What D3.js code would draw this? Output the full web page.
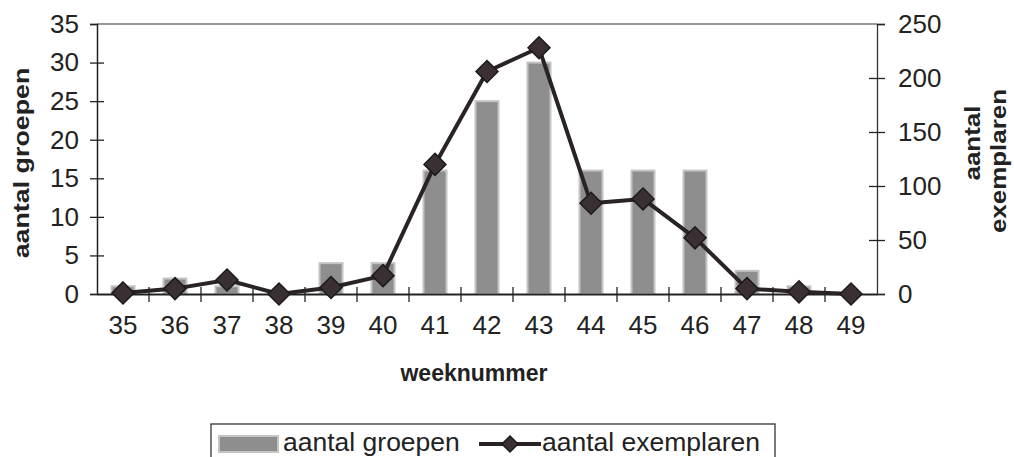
<!DOCTYPE html>
<html>
<head>
<meta charset="utf-8">
<script src="https://cdn.jsdelivr.net/npm/d3@7/dist/d3.min.js"></script>
<style>
  html, body { margin: 0; padding: 0; background: #fff; }
  svg { display: block; }
  text { font-family: "Liberation Sans", Arial, sans-serif; fill: #222; }
</style>
</head>
<body>
<svg id="chart" width="1014" height="457"></svg>
<script>
const weeks = ["35","36","37","38","39","40","41","42","43","44","45","46","47","48","49"];
const groepen = [1, 2, 1, 0, 4, 4, 16, 25, 30, 16, 16, 16, 3, 1, 0];
const exemplaren = [1, 5, 13, 0, 6, 17, 120, 206, 228, 84, 88, 52, 5, 2, 0];
const leftTicks = [0, 5, 10, 15, 20, 25, 30, 35];
const rightTicks = [0, 50, 100, 150, 200, 250];

const svg = d3.select("#chart");
const L = 97, R = 877, T = 24, B = 294;

const x = d3.scaleBand().domain(weeks).range([L, R]).padding(0);
const yL = d3.scaleLinear().domain([0, 35]).range([B, T]);
const yR = d3.scaleLinear().domain([0, 250]).range([B, T]);

// top border
svg.append("line").attr("x1", L).attr("x2", R).attr("y1", T).attr("y2", T)
  .attr("stroke", "#777").attr("stroke-width", 1.5);

// bars
const bw = 23;
svg.append("g").selectAll("rect").data(weeks).join("rect")
  .attr("x", d => x(d) + x.bandwidth() / 2 - bw / 2)
  .attr("width", bw)
  .attr("y", (d, i) => yL(groepen[i]))
  .attr("height", (d, i) => B - yL(groepen[i]))
  .attr("fill", "#8e8e8e")
  .attr("stroke", "#c4c4c4")
  .attr("stroke-width", 2);

// left axis
const gL = svg.append("g").attr("transform", `translate(${L},0)`)
  .call(d3.axisLeft(yL).tickValues(leftTicks).tickSize(7).tickPadding(11));
gL.select(".domain").attr("stroke", "#222").attr("stroke-width", 1.5);
gL.selectAll(".tick line").attr("stroke", "#222").attr("stroke-width", 1.3)
  .attr("x2", -7).attr("x1", d => d === 35 || d === 0 ? 0 : 7);
gL.selectAll(".tick text").style("font-size", "26px").attr("fill", "#222");

// right axis
const gR = svg.append("g").attr("transform", `translate(${R},0)`)
  .call(d3.axisRight(yR).tickValues(rightTicks).tickSize(8).tickPadding(13));
gR.select(".domain").attr("stroke", "#333").attr("stroke-width", 1.3);
gR.selectAll(".tick line").attr("stroke", "#222").attr("stroke-width", 1.3)
  .attr("x1", d => d === 250 || d === 0 ? 0 : -8);
gR.selectAll(".tick text").style("font-size", "26px").attr("fill", "#222");

// bottom axis
const gB = svg.append("g").attr("transform", `translate(0,${B})`)
  .call(d3.axisBottom(x).tickSize(0).tickPadding(22));
gB.select(".domain").attr("stroke", "#222").attr("stroke-width", 1.8);
gB.selectAll(".tick text").style("font-size", "26px").attr("fill", "#222");
// boundary ticks between categories
svg.append("g").selectAll("line").data(weeks.slice(1)).join("line")
  .attr("x1", d => x(d)).attr("x2", d => x(d))
  .attr("y1", B - 7).attr("y2", B + 8)
  .attr("stroke", "#222").attr("stroke-width", 1.3);

// line
const cx = (d) => x(d) + x.bandwidth() / 2;
const line = d3.line().x((d, i) => cx(weeks[i])).y(d => yR(d));
svg.append("path").datum(exemplaren)
  .attr("d", line).attr("fill", "none")
  .attr("stroke", "#2a2326").attr("stroke-width", 4).attr("stroke-linejoin", "round");

const dia = 11;
const diamond = `M0,${-dia}L${dia},0L0,${dia}L${-dia},0Z`;
svg.append("g").selectAll("path").data(exemplaren).join("path")
  .attr("transform", (d, i) => `translate(${cx(weeks[i])},${yR(d)})`)
  .attr("d", diamond)
  .attr("fill", "#3a3034").attr("stroke", "#1e1a1c").attr("stroke-width", 1.5);

// axis titles
svg.append("text").attr("x", (L + R) / 2 - 13).attr("y", 381)
  .attr("text-anchor", "middle").style("font-size", "23px").style("font-weight", "bold")
  .text("weeknummer");

svg.append("text").attr("transform", "translate(29,163) rotate(-90) scale(1.22,1)")
  .attr("text-anchor", "middle").style("font-size", "22px").style("font-weight", "bold")
  .text("aantal groepen");

svg.append("text").attr("transform", "translate(980,143) rotate(-90) scale(1.18,1)")
  .attr("text-anchor", "middle").style("font-size", "22px").style("font-weight", "bold")
  .text("aantal");
svg.append("text").attr("transform", "translate(1006,161) rotate(-90) scale(1.18,1)")
  .attr("text-anchor", "middle").style("font-size", "22px").style("font-weight", "bold")
  .text("exemplaren");

// legend
const lg = svg.append("g");
lg.append("rect").attr("x", 211).attr("y", 424).attr("width", 564).attr("height", 40)
  .attr("fill", "#fff").attr("stroke", "#333").attr("stroke-width", 1.3);
lg.append("rect").attr("x", 219).attr("y", 436).attr("width", 59).attr("height", 16)
  .attr("fill", "#8e8e8e").attr("stroke", "#c4c4c4").attr("stroke-width", 2);
lg.append("text").attr("x", 283).attr("y", 451).style("font-size", "26.5px").text("aantal groepen");
lg.append("line").attr("x1", 479).attr("x2", 541).attr("y1", 444).attr("y2", 444)
  .attr("stroke", "#2a2326").attr("stroke-width", 4);
lg.append("path").attr("d", `M0,-8L8,0L0,8L-8,0Z`).attr("transform", "translate(510,444)")
  .attr("fill", "#3a3034").attr("stroke", "#1e1a1c").attr("stroke-width", 1.5);
lg.append("text").attr("x", 542).attr("y", 451).style("font-size", "26.5px").text("aantal exemplaren");
</script>
</body>
</html>
